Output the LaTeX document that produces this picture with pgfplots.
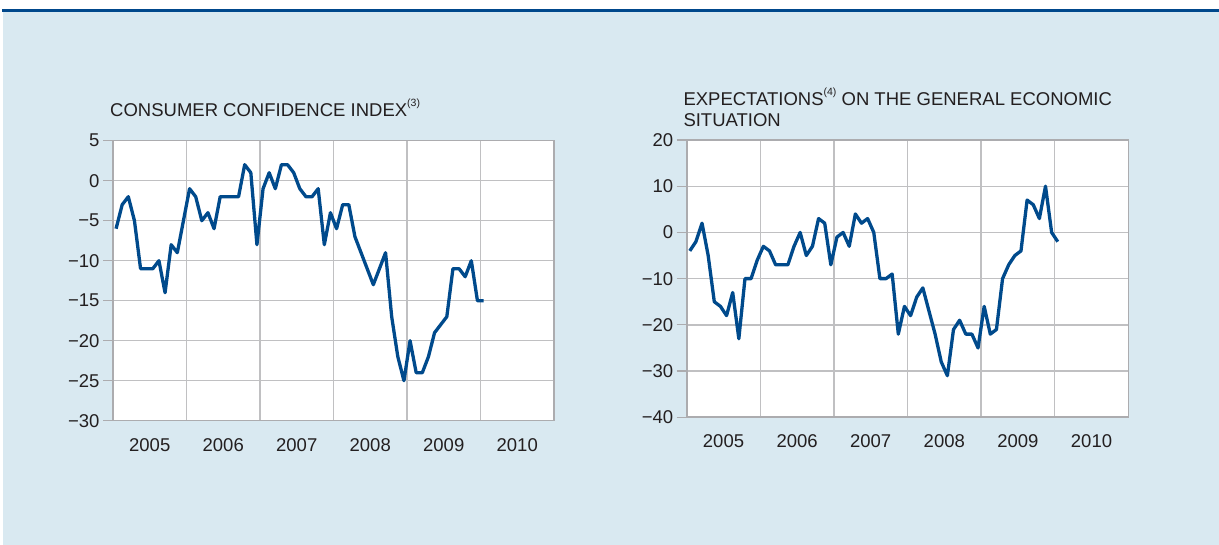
\documentclass[border=0pt]{standalone}
\usepackage{fontspec}
\setmainfont{Liberation Sans}
\usepackage{pgfplots}
\pgfplotsset{compat=1.18}
\usepackage{pgfplotstable}
\definecolor{bgblue}{RGB}{217,233,241}
\definecolor{topblue}{RGB}{0,72,140}
\definecolor{serblue}{RGB}{0,74,140}
\definecolor{gridgrey}{RGB}{192,192,194}
\definecolor{framegrey}{RGB}{172,172,175}
\definecolor{txt}{RGB}{35,31,32}

\pgfplotstableread{
m v
0.5 -6
1.5 -3
2.5 -2
3.5 -5
4.5 -11
5.5 -11
6.5 -11
7.5 -10
8.5 -14
9.5 -8
10.5 -9
11.5 -5
12.5 -1
13.5 -2
14.5 -5
15.5 -4
16.5 -6
17.5 -2
18.5 -2
19.5 -2
20.5 -2
21.5 2
22.5 1
23.5 -8
24.5 -1
25.5 1
26.5 -1
27.5 2
28.5 2
29.5 1
30.5 -1
31.5 -2
32.5 -2
33.5 -1
34.5 -8
35.5 -4
36.5 -6
37.5 -3
38.5 -3
39.5 -7
40.5 -9
41.5 -11
42.5 -13
43.5 -11
44.5 -9
45.5 -17
46.5 -22
47.5 -25
48.5 -20
49.5 -24
50.5 -24
51.5 -22
52.5 -19
53.5 -18
54.5 -17
55.5 -11
56.5 -11
57.5 -12
58.5 -10
59.5 -15
60.5 -15
}\confidence

\pgfplotstableread{
m v
0.5 -4
1.5 -2
2.5 2
3.5 -5
4.5 -15
5.5 -16
6.5 -18
7.5 -13
8.5 -23
9.5 -10
10.5 -10
11.5 -6
12.5 -3
13.5 -4
14.5 -7
15.5 -7
16.5 -7
17.5 -3
18.5 0
19.5 -5
20.5 -3
21.5 3
22.5 2
23.5 -7
24.5 -1
25.5 0
26.5 -3
27.5 4
28.5 2
29.5 3
30.5 0
31.5 -10
32.5 -10
33.5 -9
34.5 -22
35.5 -16
36.5 -18
37.5 -14
38.5 -12
39.5 -17
40.5 -22
41.5 -28
42.5 -31
43.5 -21
44.5 -19
45.5 -22
46.5 -22
47.5 -25
48.5 -16
49.5 -22
50.5 -21
51.5 -10
52.5 -7
53.5 -5
54.5 -4
55.5 7
56.5 6
57.5 3
58.5 10
59.5 0
60.5 -2
}\expectations

\pgfplotsset{
  panel/.style={
    scale only axis,
    anchor=south west,
    xmin=0, xmax=72,
    axis background/.style={fill=white},
    axis line style={framegrey, line width=1.6bp},
    xtick={6,18,30,42,54,66},
    xticklabels={2005,2006,2007,2008,2009,2010},
    minor xtick={12,24,36,48,60},
    xminorgrids=true,
    ymajorgrids=true,
    grid style={gridgrey, line width=1.3bp},
    minor grid style={gridgrey, line width=1.3bp},
    x tick style={draw=none},
    minor x tick style={draw=none},
    y tick style={framegrey, line width=1.2bp},
    major tick length=10bp,
    tick align=outside,
    ytick pos=left,
    xtick pos=bottom,
    tick label style={font=\fontsize{18.5bp}{20bp}\selectfont, text=txt},
    xticklabel style={yshift=-4bp},
    clip=false,
  },
  serie/.style={serblue, line width=3.3bp, line join=round, no markers},
}

\begin{document}
\begin{tikzpicture}
\useasboundingbox (0,0) rectangle (1219bp,545bp);
\fill[white] (0,0) rectangle (1219bp,545bp);
\fill[bgblue] (3bp,0) rectangle (1219bp,533.5bp);
\fill[topblue] (2bp,533.3bp) rectangle (1219bp,536.3bp);

\node[anchor=base west, inner sep=0, text=txt, font=\fontsize{18.5bp}{20.7bp}\selectfont]
  at (110bp,428.3bp) {CONSUMER CONFIDENCE INDEX\raisebox{0.55em}{\fontsize{10.5bp}{11bp}\selectfont(3)}};
\node[anchor=base west, inner sep=0, text=txt, font=\fontsize{18.5bp}{20.7bp}\selectfont]
  at (683.3bp,439bp) {EXPECTATIONS\raisebox{0.55em}{\fontsize{10.5bp}{11bp}\selectfont(4)} ON THE GENERAL ECONOMIC};
\node[anchor=base west, inner sep=0, text=txt, font=\fontsize{18.5bp}{20.7bp}\selectfont]
  at (683.3bp,418.3bp) {SITUATION};

\begin{axis}[panel,
  at={(113bp,124.3bp)}, width=441bp, height=280bp,
  ymin=-30, ymax=5,
  ytick={-30,-25,-20,-15,-10,-5,0,5},
  yticklabels={−30,−25,−20,−15,−10,−5,0,5},
]
\addplot[serie] table[x=m,y=v] {\confidence};
\end{axis}

\begin{axis}[panel,
  at={(686.7bp,127.7bp)}, width=441.6bp, height=277.3bp,
  ymin=-40, ymax=20,
  ytick={-40,-30,-20,-10,0,10,20},
  yticklabels={−40,−30,−20,−10,0,10,20},
]
\addplot[serie] table[x=m,y=v] {\expectations};
\end{axis}
\end{tikzpicture}
\end{document}
